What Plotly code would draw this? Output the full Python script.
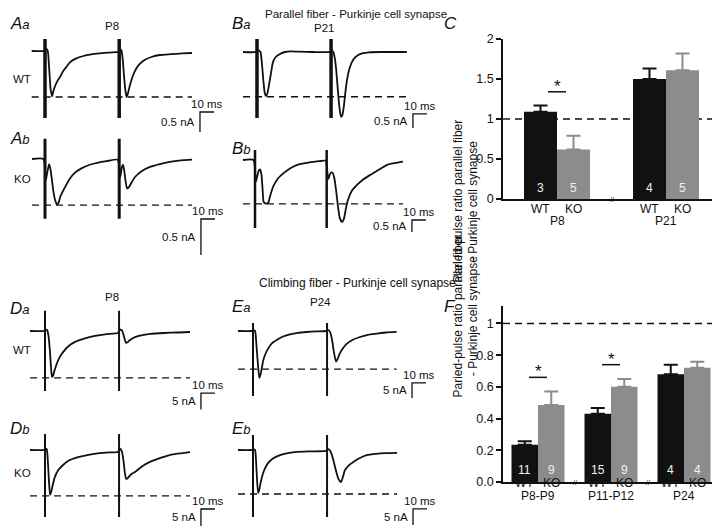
import plotly.graph_objects as go

W, H = 720, 528
OFF = 8  # the page shows the figure shifted by the default body margin
FONT = "Liberation Sans, Arial, Helvetica, sans-serif"
INK = "#111111"
GREY = "#8c8c8c"

# ============================ DATA ============================
# Paired-pulse EPSCs: time after first stimulus (ms), current (nA)
# Parallel fiber - Purkinje cell, P8 WT (Aa) and KO (Ab)
t_Aa = [-9.5, -1.0, 0.3, 1.2, 2.0, 3.0, 4.0, 5.0, 6.0, 7.5, 9.0, 10.7, 13.0, 15.0, 17.9, 22.0, 27.4, 33.0, 39.0, 45.0,
        51.0, 52.5, 53.5, 54.5, 55.5, 56.5, 57.5, 58.3, 59.3, 60.5, 62.0, 63.0, 65.0, 67.5, 71.4, 76.0, 82.0, 90.0, 98.0, 105.0]
i_Aa = [0, 0, 0.05, 0.05, 0.0, -0.45, -0.95, -1.13, -1.0, -0.85, -0.74, -0.65, -0.5, -0.41, -0.28, -0.19, -0.125, -0.085, -0.06, -0.04,
        -0.03, -0.025, 0.03, 0.02, -0.2, -0.65, -1.0, -1.15, -1.05, -0.88, -0.7, -0.6, -0.45, -0.33, -0.22, -0.15, -0.1, -0.08, -0.06, -0.05]
t_Ab = [-9.3, -1.0, 0.5, 1.5, 2.9, 4.0, 5.0, 6.0, 7.2, 8.5, 9.8, 11.0, 14.3, 17.5, 21.4, 26.0, 32.0, 38.0, 44.0, 52.0,
        53.8, 54.8, 55.7, 56.5, 57.5, 58.6, 60.0, 62.0, 64.3, 69.0, 75.0, 82.0, 89.0, 97.0, 105.0]
i_Ab = [0, 0, -0.3, -0.2, -0.07, -0.15, -0.3, -0.45, -0.57, -0.63, -0.6, -0.52, -0.39, -0.28, -0.19, -0.13, -0.08, -0.05, -0.03, -0.01,
        -0.25, -0.12, -0.08, -0.15, -0.3, -0.41, -0.39, -0.32, -0.25, -0.17, -0.11, -0.07, -0.04, -0.02, -0.01]
# Parallel fiber - Purkinje cell, P21 WT (Ba) and KO (Bb)
t_Ba = [-10.0, -1.0, 0.5, 1.5, 2.5, 3.5, 4.5, 5.5, 6.4, 7.3, 8.5, 10.0, 11.4, 13.5, 16.4, 20.0, 24.0, 30.0, 40.0, 52.0,
        53.5, 54.5, 55.5, 56.5, 57.5, 58.5, 59.5, 60.2, 61.0, 62.0, 63.0, 64.3, 66.0, 68.6, 72.0, 75.7, 80.0, 88.0, 97.0, 107.0]
i_Ba = [0, 0, 0.08, 0.05, 0.0, -0.4, -1.0, -1.45, -1.57, -1.5, -1.2, -0.75, -0.36, -0.17, -0.07, 0.0, 0.02, 0.01, 0.0, 0.0,
        0.05, 0.0, -0.2, -0.6, -1.2, -1.8, -2.2, -2.32, -2.25, -1.95, -1.5, -1.0, -0.6, -0.29, -0.12, -0.04, -0.01, 0.0, 0.0, 0.0]
t_Bb = [-8.6, -1.0, 0.6, 1.5, 2.6, 3.6, 4.6, 5.4, 6.2, 7.8, 9.5, 10.8, 12.9, 16.0, 20.2, 25.0, 29.8, 36.0, 41.7, 46.0, 50.5,
        52.3, 53.5, 54.5, 55.7, 56.8, 58.0, 59.3, 60.5, 62.1, 63.5, 65.0, 66.4, 69.0, 72.9, 77.0, 82.0, 88.0, 94.0, 100.0, 105.7]
i_Bb = [0, 0, -0.9, -0.7, -0.45, -0.39, -0.6, -1.2, -1.75, -1.82, -1.78, -1.5, -1.12, -0.8, -0.56, -0.35, -0.21, -0.13, -0.08, -0.05, -0.03,
        -0.8, -0.6, -0.52, -0.56, -0.8, -1.3, -1.95, -2.4, -2.58, -2.45, -2.0, -1.67, -1.3, -1.04, -0.82, -0.63, -0.42, -0.21, -0.13, -0.07]
# Climbing fiber - Purkinje cell, P8 WT (Da) and KO (Db)
t_Da = [-10.7, -1.0, 0.5, 1.5, 2.5, 3.5, 4.3, 5.0, 5.8, 6.8, 8.6, 10.5, 12.9, 16.5, 21.4, 28.0, 35.7, 44.0, 52.0,
        53.8, 55.0, 56.0, 57.0, 57.9, 59.0, 60.5, 63.0, 67.0, 75.0, 85.0, 95.0, 103.6]
i_Da = [0, 0, 0.4, 0.3, -1.5, -6.0, -11.0, -13.9, -13.5, -12.0, -9.7, -7.9, -6.4, -4.7, -3.3, -2.3, -1.5, -0.95, -0.6,
        0.4, 0.2, -1.0, -2.6, -3.6, -3.4, -2.8, -2.1, -1.5, -0.9, -0.6, -0.45, -0.3]
t_Db = [-10.7, -1.0, 0.5, 1.3, 2.0, 2.8, 3.6, 4.5, 5.5, 7.1, 9.5, 12.9, 17.0, 23.6, 31.0, 39.0, 46.0, 52.0,
        53.8, 55.0, 56.0, 57.0, 57.9, 59.0, 60.5, 62.0, 64.3, 69.0, 75.0, 82.0, 89.0, 96.0, 103.6]
i_Db = [0, 0, 0.5, 0.2, -3.0, -9.0, -13.2, -12.2, -10.3, -7.9, -5.9, -4.4, -3.1, -2.1, -1.4, -0.9, -0.7, -0.6,
        0.3, -0.5, -3.0, -6.5, -8.5, -8.3, -7.6, -7.0, -6.5, -4.9, -3.5, -2.4, -1.5, -1.0, -0.6]
# Climbing fiber - Purkinje cell, P24 WT (Ea) and KO (Eb)
t_Ea = [-10.7, -1.0, 0.5, 1.5, 2.5, 3.5, 4.5, 5.5, 6.5, 7.4, 9.0, 10.9, 13.5, 16.9, 21.0, 26.4, 32.0, 38.3, 45.0, 52.0,
        54.0, 55.2, 56.5, 57.8, 59.3, 60.5, 62.1, 64.5, 66.9, 71.0, 76.4, 82.0, 88.3, 95.0, 102.6]
i_Ea = [0, 0, 0.3, 0.0, -5.0, -11.0, -15.6, -14.3, -11.8, -9.7, -7.5, -5.8, -4.1, -3.0, -1.9, -1.1, -0.6, -0.33, -0.15, 0.0,
        0.3, -0.5, -3.0, -7.0, -10.2, -9.3, -7.4, -5.6, -4.3, -3.0, -2.0, -1.3, -0.9, -0.5, -0.3]
t_Eb = [-10.7, -1.0, 0.5, 1.5, 2.5, 3.6, 4.5, 5.3, 6.4, 8.3, 10.7, 14.0, 19.3, 25.0, 31.4, 40.0, 52.0,
        54.0, 55.2, 57.0, 59.0, 61.0, 62.9, 64.3, 65.7, 68.5, 71.7, 76.0, 81.2, 88.0, 95.0, 102.9]
i_Eb = [0, 0, 0.3, 0.0, -6.0, -13.4, -12.4, -10.5, -8.4, -6.0, -4.1, -2.7, -1.6, -1.0, -0.6, -0.45, -0.3,
        0.3, -0.3, -2.5, -6.0, -9.0, -10.0, -8.3, -6.25, -4.8, -3.75, -2.6, -1.6, -1.2, -1.0, -0.9]

# stimulus times (ms), stimulus-artifact extent (nA), dashed first-peak level (nA)
stim_Aa, art_Aa, peak_Aa = [0, 53.0], [0.3, -1.675], -1.15
stim_Ab, art_Ab, peak_Ab = [0, 53.0], [0.28, -0.83], -0.64
stim_Ba, art_Ba, peak_Ba = [0, 52.9], [0.46, -2.36], -1.6
stim_Bb, art_Bb, peak_Bb = [0, 51.2], [0.42, -2.83], -1.83
stim_Da, art_Da, peak_Da = [0, 52.9], [6.1, -18.2], -14.2
stim_Db, art_Db, peak_Db = [0, 52.9], [4.7, -19.7], -13.5
stim_Ea, art_Ea, peak_Ea = [0, 52.9], [2.7, -21.7], -12.7
stim_Eb, art_Eb, peak_Eb = [0, 52.9], [4.7, -20.9], -13.75

# scale bars
SCALE_MS = 10
SCALE_PF_NA = 0.5
SCALE_CF_NA = 5

# Paired-pulse ratio bar charts
groups_C = ["P8", "P21"]
wt_C = [1.09, 1.50]
ko_C = [0.62, 1.61]
wt_err_C = [0.08, 0.13]
ko_err_C = [0.17, 0.21]
n_wt_C = [3, 4]
n_ko_C = [5, 5]
sig_C = {"P8": 1.34}
ticks_C = [0, 0.5, 1, 1.5, 2]
ticklab_C = ["0", "0.5", "1", "1.5", "2"]

groups_F = ["P8-P9", "P11-P12", "P24"]
wt_F = [0.235, 0.43, 0.68]
ko_F = [0.485, 0.60, 0.72]
wt_err_F = [0.022, 0.036, 0.06]
ko_err_F = [0.085, 0.05, 0.038]
n_wt_F = [11, 15, 4]
n_ko_F = [9, 9, 4]
sig_F = {"P8-P9": 0.66, "P11-P12": 0.74}
ticks_F = [0, 0.2, 0.4, 0.6, 0.8, 1]
ticklab_F = ["0.0", "0.2", "0.4", "0.6", "0.8", "1"]
PPR_REF = 1

# ============================ FIGURE ============================
fig = go.Figure()
layout = dict(template="none", width=W, height=H,
              margin=dict(l=0, r=0, t=0, b=0, pad=0, autoexpand=False),
              paper_bgcolor="white", plot_bgcolor="white", showlegend=False,
              font=dict(family=FONT, size=12, color=INK), barmode="overlay")
annotations = []
shapes = []


def fx(px):
    return max(0.0, (px - OFF) / W)


def fy(py):
    return 1 - (py - OFF) / H


def ax_names(n):
    return ("xaxis" if n == 1 else f"xaxis{n}", "yaxis" if n == 1 else f"yaxis{n}",
            "x" if n == 1 else f"x{n}", "y" if n == 1 else f"y{n}")


def ptxt(text, xpx, ypx, size=12, xanchor="center", **kw):
    annotations.append(dict(text=text, x=fx(xpx), y=fy(ypx), xref="paper", yref="paper",
                            showarrow=False, xanchor=xanchor, yanchor="middle",
                            font=dict(family=FONT, size=size, color=INK), **kw))


def trace_panel(n, X0, Y0, sy, yr, t, cur, stim, art, peak, sb, amp, amp_lab, art_w, sx=1.4, xr=(-13, 130)):
    xk, yk, xn, yn = ax_names(n)
    layout[xk] = dict(domain=[fx(X0 + sx * xr[0]), fx(X0 + sx * xr[1])], range=list(xr),
                      visible=False, anchor=yn, automargin=False)
    layout[yk] = dict(domain=[fy(Y0 - sy * yr[0]), fy(Y0 - sy * yr[1])], range=list(yr),
                      visible=False, anchor=xn, automargin=False)
    common = dict(xaxis=xn, yaxis=yn, mode="lines", hoverinfo="skip")
    fig.add_trace(go.Scatter(x=[t[0], t[-1]], y=[peak, peak],
                             line=dict(color=INK, width=1.4, dash="7px,5px"), **common))
    for s in stim:
        fig.add_trace(go.Scatter(x=[s, s], y=art, line=dict(color=INK, width=art_w), **common))
    fig.add_trace(go.Scatter(x=t, y=cur, line=dict(color=INK, width=1.8, shape="spline", smoothing=0.5), **common))
    x0, y0 = sb
    fig.add_trace(go.Scatter(x=[x0 + SCALE_MS, x0, x0], y=[y0, y0, y0 - amp],
                             line=dict(color=INK, width=1.3), **common))
    annotations.append(dict(text=f"{SCALE_MS} ms", x=x0 + SCALE_MS / 2, y=y0, xref=xn, yref=yn,
                            showarrow=False, yanchor="bottom", font=dict(family=FONT, size=11.5, color=INK)))
    annotations.append(dict(text=amp_lab, x=x0, y=y0 - amp / 2, xref=xn, yref=yn, showarrow=False,
                            xanchor="right", yanchor="middle", xshift=-3,
                            font=dict(family=FONT, size=11.5, color=INK)))


trace_panel(1, 45, 51, 40, (-2.1, 0.4), t_Aa, i_Aa, stim_Aa, art_Aa, peak_Aa, (110.7, -1.525), SCALE_PF_NA, "0.5 nA", 3.5)
trace_panel(2, 45, 159, 72, (-1.4, 0.35), t_Ab, i_Ab, stim_Ab, art_Ab, peak_Ab, (111.4, -0.833), SCALE_PF_NA, "0.5 nA", 3)
trace_panel(3, 257, 52, 28, (-2.8, 0.6), t_Ba, i_Ba, stim_Ba, art_Ba, peak_Ba, (111.4, -2.21), SCALE_PF_NA, "0.5 nA", 3.5)
trace_panel(4, 255, 160, 24, (-3.2, 0.5), t_Bb, i_Bb, stim_Bb, art_Bb, peak_Bb, (112.1, -2.5), SCALE_PF_NA, "0.5 nA", 2.5)
trace_panel(5, 45, 331, 3.3, (-24.5, 7), t_Da, i_Da, stim_Da, art_Da, peak_Da, (111.4, -18.8), SCALE_CF_NA, "5 nA", 2)
trace_panel(6, 45, 450, 3.4, (-22.8, 6), t_Db, i_Db, stim_Db, art_Db, peak_Db, (111.4, -17.35), SCALE_CF_NA, "5 nA", 2)
trace_panel(7, 253, 331, 3.0, (-23, 4), t_Ea, i_Ea, stim_Ea, art_Ea, peak_Ea, (113.6, -17.3), SCALE_CF_NA, "5 nA", 2)
trace_panel(8, 253, 450, 3.2, (-24, 6), t_Eb, i_Eb, stim_Eb, art_Eb, peak_Eb, (114.3, -18.4), SCALE_CF_NA, "5 nA", 2)


def bar_panel(n, groups, wt, ko, wt_err, ko_err, n_wt, n_ko, sig, tv, tt, box, yr, g0, gstep, bw_px,
              n_val, lab_y, grp_y, title_y):
    xk, yk, xn, yn = ax_names(n)
    x0p, x1p, ytp, ybp = box
    ng = len(groups)
    xr = [-(g0 - x0p) / gstep, (ng - 1) + (x1p - (g0 + gstep * (ng - 1))) / gstep]
    bw = bw_px / gstep
    layout[xk] = dict(domain=[fx(x0p), fx(x1p)], range=xr, type="category", anchor=yn, automargin=False,
                      showline=True, linecolor=INK, linewidth=1.5, ticks="", showticklabels=False,
                      showgrid=False, zeroline=False)
    layout[yk] = dict(domain=[fy(ybp), fy(ytp)], range=list(yr), anchor=xn, automargin=False,
                      showline=True, linecolor=INK, linewidth=1.5, ticks="outside", ticklen=5,
                      tickwidth=1.5, tickcolor=INK, tickvals=tv, ticktext=tt, showgrid=False,
                      zeroline=False, tickfont=dict(family=FONT, size=12.5, color=INK))
    shapes.append(dict(type="line", xref=f"{xn} domain", yref=yn, x0=0, x1=1, y0=PPR_REF, y1=PPR_REF,
                       layer="below", line=dict(color=INK, width=1.4, dash="7px,5px")))
    for vals, errs, col, off in ((wt, wt_err, INK, -bw), (ko, ko_err, GREY, 0)):
        fig.add_trace(go.Bar(x=groups, y=vals, width=bw, offset=off, xaxis=xn, yaxis=yn,
                             marker=dict(color=col, line=dict(width=0)), hoverinfo="skip",
                             error_y=dict(type="data", symmetric=False, array=errs,
                                          arrayminus=[0] * len(errs), color=col, thickness=2, width=7)))
    for k, g in enumerate(groups):
        for lab, nn, pos in (("WT", n_wt[k], k - bw / 2), ("KO", n_ko[k], k + bw / 2)):
            annotations.append(dict(text=str(nn), x=pos, y=n_val, xref=xn, yref=yn, showarrow=False,
                                    font=dict(family=FONT, size=12, color="#f2f2f2")))
            annotations.append(dict(text=lab, x=pos, y=fy(lab_y), xref=xn, yref="paper",
                                    showarrow=False, font=dict(family=FONT, size=12, color=INK)))
        annotations.append(dict(text=g, x=k, y=fy(grp_y), xref=xn, yref="paper",
                                showarrow=False, font=dict(family=FONT, size=12, color=INK)))
        if k < ng - 1:
            annotations.append(dict(text="//", x=k + 0.5, y=0, xref=xn, yref=yn, showarrow=False,
                                    font=dict(family=FONT, size=7, color=INK)))
        if g in sig:
            hw = 9 / gstep
            shapes.append(dict(type="line", xref=xn, yref=yn, x0=k - hw, x1=k + hw, y0=sig[g], y1=sig[g],
                               line=dict(color=INK, width=1.5)))
            annotations.append(dict(text="*", x=k, y=sig[g], xref=xn, yref=yn, showarrow=False,
                                    yanchor="bottom", yshift=-6, font=dict(family=FONT, size=17, color=INK)))
    annotations.append(dict(text="Paried-pulse ratio parallel fiber<br>- Purkinje cell synapse",
                            x=fx(465), y=fy(title_y), xref="paper", yref="paper", showarrow=False,
                            textangle=-90, font=dict(family=FONT, size=12, color=INK)))


bar_panel(9, groups_C, wt_C, ko_C, wt_err_C, ko_err_C, n_wt_C, n_ko_C, sig_C, ticks_C, ticklab_C,
          (503, 719, 39, 199), (0, 2), 557, 109, 33, 0.14, 209, 221, 118)
bar_panel(10, groups_F, wt_F, ko_F, wt_err_F, ko_err_F, n_wt_F, n_ko_F, sig_F, ticks_F, ticklab_F,
          (503, 719, 306, 482), (0, 1.11), 538, 73, 26.5, 0.075, 492, 505, 400)

# ---- text labels ----
ptxt("Parallel fiber - Purkinje cell synapse", 356, 14, size=11.5)
ptxt("Climbing fiber - Purkinje cell synapse", 357, 283)
for txt, xp, yp in (("P8", 112, 26), ("P21", 324, 28), ("P8", 112, 297), ("P24", 320, 302),
                    ("WT", 22, 79), ("KO", 22, 179), ("WT", 22, 350), ("KO", 22, 473)):
    ptxt(txt, xp, yp, size=11.5)


def plabel(big, small, xp, yp):
    txt = f"<i>{big}</i>" + (f"<span style='font-size:13px'><i>{small}</i></span>" if small else "")
    ptxt(txt, xp, yp, size=17, xanchor="left")


for big, small, xp, yp in (("A", "a", 0, 23), ("A", "b", 0, 138), ("B", "a", 230, 23), ("B", "b", 230, 148),
                           ("C", "", 442, 24), ("D", "a", 0, 308), ("D", "b", 0, 428), ("E", "a", 230, 306),
                           ("E", "b", 230, 428), ("F", "", 442, 306)):
    plabel(big, small, xp, yp)

layout["annotations"] = annotations
layout["shapes"] = shapes
fig.update_layout(**layout)
fig.write_html("out.html")
